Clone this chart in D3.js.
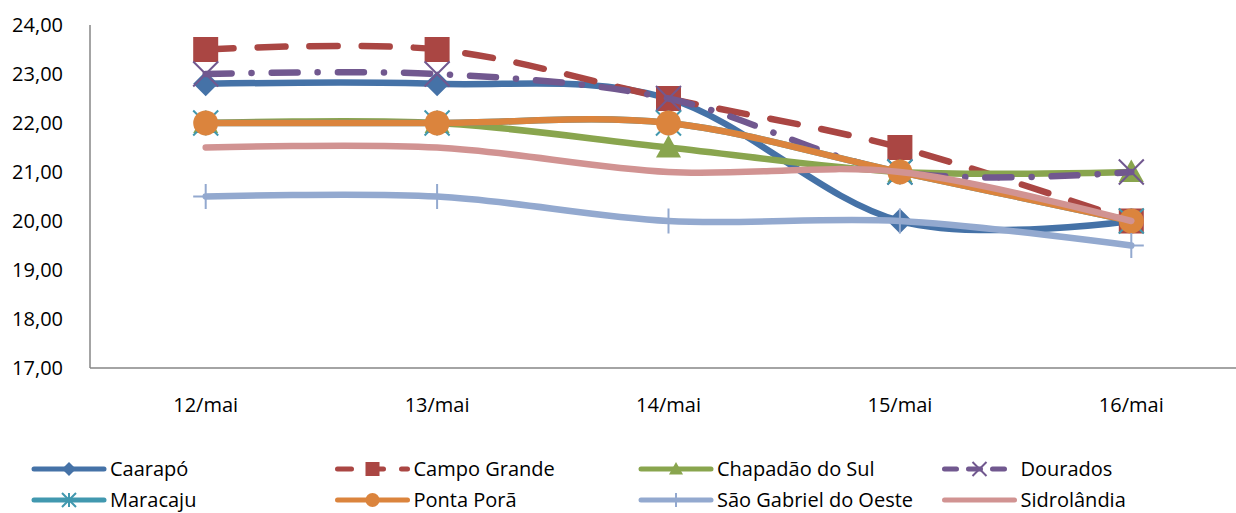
<!DOCTYPE html>
<meta charset="utf-8" />
<style>
  body { margin: 0; background: #fff; }
  text { font-family: "Open Sans", sans-serif; fill: #000; }
</style>
<svg width="1236" height="513"></svg>
<script src="https://d3js.org/d3.v7.min.js"></script>
<script>
    var days = ["12/mai", "13/mai", "14/mai", "15/mai", "16/mai"];
    var yTicks = [17, 18, 19, 20, 21, 22, 23, 24];

    var caarapo      = [22.8, 22.8, 22.5, 20.0, 20.0];
    var campoGrande  = [23.5, 23.5, 22.5, 21.5, 20.0];
    var chapadao     = [22.0, 22.0, 21.5, 21.0, 21.0];
    var dourados     = [23.0, 23.0, 22.5, 21.0, 21.0];
    var maracaju     = [22.0, 22.0, 22.0, 21.0, 20.0];
    var pontaPora    = [22.0, 22.0, 22.0, 21.0, 20.0];
    var saoGabriel   = [20.5, 20.5, 20.0, 20.0, 19.5];
    var sidrolandia  = [21.5, 21.5, 21.0, 21.0, 20.0];

    var series = [
        { name: "Caarapó", values: caarapo, color: "#4572A7", marker: "diamond" },
        { name: "Campo Grande", values: campoGrande, color: "#AA4643", marker: "square", dash: "28,24" },
        { name: "Chapadão do Sul", values: chapadao, color: "#89A54E", marker: "triangle" },
        { name: "Dourados", values: dourados, color: "#71588F", marker: "x", dash: "26,20,0.1,20" },
        { name: "Maracaju", values: maracaju, color: "#4198AF", marker: "star" },
        { name: "Ponta Porã", values: pontaPora, color: "#DB843D", marker: "circle" },
        { name: "São Gabriel do Oeste", values: saoGabriel, color: "#93A9CF", marker: "plus" },
        { name: "Sidrolândia", values: sidrolandia, color: "#D19392", marker: "none" }
    ];

    var svg = d3.select("svg");

    var x = d3.scalePoint().domain(days).range([90, 1247]).padding(0.5);
    var y = d3.scaleLinear().domain([17, 24]).range([368, 25]);

    // axes
    svg.append("line")
        .attr("x1", 90).attr("x2", 90)
        .attr("y1", y(24)).attr("y2", y(17))
        .attr("stroke", "#868686").attr("stroke-width", 1.5);
    svg.append("line")
        .attr("x1", 90).attr("x2", 1247)
        .attr("y1", y(17)).attr("y2", y(17))
        .attr("stroke", "#868686").attr("stroke-width", 1.5);

    svg.append("g").selectAll("text")
        .data(yTicks)
        .enter()
        .append("text")
        .attr("x", 63)
        .attr("y", function(d) { return y(d); })
        .attr("dy", "0.35em")
        .attr("text-anchor", "end")
        .style("font-size", "20px")
        .text(function(d) { return d3.format(".2f")(d).replace(".", ","); });

    svg.append("g").selectAll("text")
        .data(days)
        .enter()
        .append("text")
        .attr("x", function(d) { return x(d); })
        .attr("y", 405)
        .attr("dy", "0.35em")
        .attr("text-anchor", "middle")
        .style("font-size", "20px")
        .text(function(d) { return d; });

    var line = d3.line()
        .x(function(d, i) { return x(days[i]); })
        .y(function(d) { return y(d); })
        .curve(d3.curveCardinal.tension(0));

    function drawMarker(g, type, color, cx, cy, s) {
        var h = s / 2;
        if (type == "diamond") {
            g.append("path").attr("d", "M" + cx + "," + (cy - h) + "L" + (cx + h) + "," + cy + "L" + cx + "," + (cy + h) + "L" + (cx - h) + "," + cy + "Z")
                .attr("fill", color);
        } else if (type == "square") {
            g.append("rect").attr("x", cx - h).attr("y", cy - h).attr("width", s).attr("height", s)
                .attr("fill", color);
        } else if (type == "triangle") {
            g.append("path").attr("d", "M" + cx + "," + (cy - h) + "L" + (cx + h) + "," + (cy + h * 0.8) + "L" + (cx - h) + "," + (cy + h * 0.8) + "Z")
                .attr("fill", color);
        } else if (type == "circle") {
            g.append("circle").attr("cx", cx).attr("cy", cy).attr("r", h).attr("fill", color);
        } else if (type == "x" || type == "star" || type == "plus") {
            var d = "";
            if (type != "plus") d += "M" + (cx - h) + "," + (cy - h) + "L" + (cx + h) + "," + (cy + h) + "M" + (cx - h) + "," + (cy + h) + "L" + (cx + h) + "," + (cy - h);
            if (type == "star" || type == "plus") d += "M" + cx + "," + (cy - h) + "L" + cx + "," + (cy + h);
            if (type == "plus") d += "M" + (cx - h) + "," + cy + "L" + (cx + h) + "," + cy;
            g.append("path").attr("d", d).attr("stroke", color).attr("stroke-width", 2).attr("fill", "none");
        }
    }

    series.forEach(function(s) {
        var g = svg.append("g");
        g.append("path")
            .datum(s.values)
            .attr("d", line)
            .attr("fill", "none")
            .attr("stroke", s.color)
            .attr("stroke-width", 6.5)
            .attr("stroke-linecap", "round")
            .attr("stroke-dasharray", s.dash || null);
        s.values.forEach(function(v, i) {
            drawMarker(g, s.marker, s.color, x(days[i]), y(v), 25);
        });
    });

    // legend
    var legend = svg.append("g");
    series.forEach(function(s, i) {
        var lx = 34 + (i % 4) * 303.5;
        var ly = 469 + Math.floor(i / 4) * 31;
        var g = legend.append("g");
        g.append("line")
            .attr("x1", lx).attr("x2", lx + 70)
            .attr("y1", ly).attr("y2", ly)
            .attr("stroke", s.color)
            .attr("stroke-width", 5)
            .attr("stroke-linecap", "round")
            .attr("stroke-dasharray", s.dash ? (s.marker == "square" ? "14,18" : "12,12") : null);
        drawMarker(g, s.marker, s.color, lx + 35, ly, 14);
        g.append("text")
            .attr("x", lx + 76)
            .attr("y", ly)
            .attr("dy", "0.35em")
            .style("font-size", "20px")
            .text(s.name);
    });
</script>
